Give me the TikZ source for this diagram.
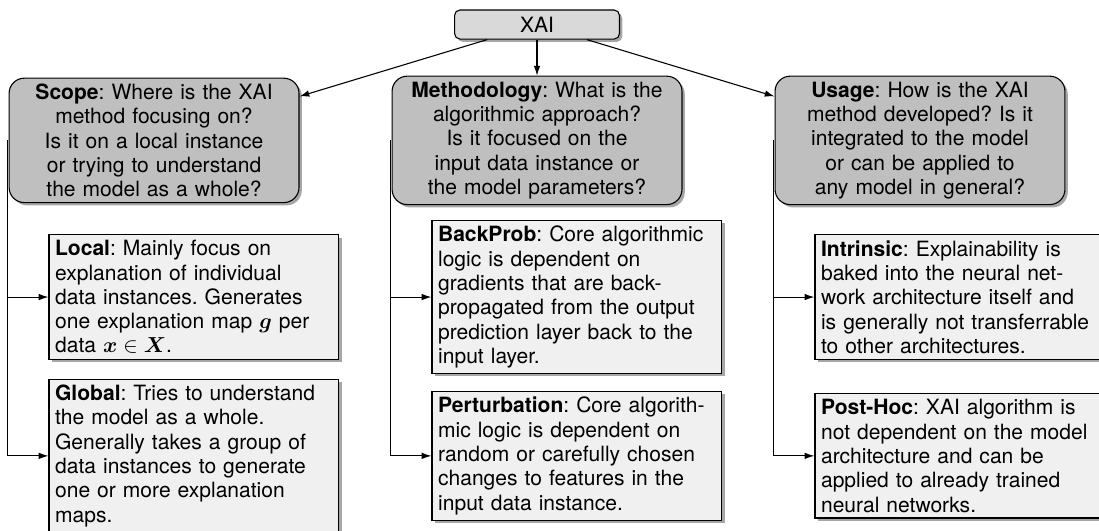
\documentclass[tikz,border=0pt]{standalone}
\usepackage{amsmath, amssymb}
\usepackage{fontspec}
\setmainfont{TeX Gyre Heros}
\usepackage{tikz}
\usetikzlibrary{positioning}
\usetikzlibrary{arrows.meta}
\usetikzlibrary{shadows}
\usetikzlibrary{calc}
\frenchspacing

\begin{document}
\begin{tikzpicture}[ font = \fontsize{9.7pt}{11.2pt}\selectfont
                     , >={Latex[width=3pt, length=4.5pt]}
                     , line width = 0.5pt
                     ]

    \tikzset{ box/.style = { rectangle
                           , draw = black
                           , inner xsep = 2.8pt
                           , inner ysep = 2.6pt
                           , drop shadow={shadow xshift=1.3pt, shadow yshift=-1.3pt, fill=black, opacity=0.35} }
            , root/.style = { box, fill = black!15, rounded corners = 2.5pt
                            , minimum width = 76pt
                            , minimum height = 13.4pt, inner ysep = 1pt
                            , align = center }
            , question/.style = {box, fill = black!25, rounded corners = 7pt, text width = 128pt, align = center}
            , leaf/.style = {box, fill = black!6, text width = 128pt, align = left}}

    \useasboundingbox (0,0) rectangle (506.5pt,-244.7pt);
    \coordinate (row1) at (0,-136.9pt);
    \coordinate (row2) at (0,-210.1pt);
    %%
    %% Nodes
    %%
    \node (xai)   [root] at (247.5pt,-11.3pt) {XAI};
    \node (meth)  [question, below = 16.6pt of xai]
      {\textbf{Methodology}: What is the\\ algorithmic approach?\\ Is it focused on the\\
       input data instance or\\ the model parameters?};
    \node (scope) [question, left = 42.4pt of meth]
      {\textbf{Scope}: Where is the XAI\\ method focusing on?\\ Is it on a local instance\\
       or trying to understand\\ the model as a whole?};
    \node (usage) [question, right = 42.4pt of meth]
      {\textbf{Usage}: How is the XAI\\ method developed? Is it\\ integrated to the model\\
       or can be applied to\\ any model in general?};

    \node (local)     [leaf, anchor = west] at ([xshift=18.4pt]scope.west |- row1)
      {\textbf{Local}: Mainly focus on\\ explanation of individual\\ data instances. Generates\\
       one explanation map $\boldsymbol{g}$ per\\ data $\boldsymbol{x} \in \boldsymbol{X}$.};
    \node (global)    [leaf, anchor = west] at ([xshift=18.4pt]scope.west |- row2)
      {\textbf{Global}: Tries to understand\\ the model as a whole.\\ Generally takes a group of\\
       data instances to generate\\ one or more explanation\\ maps.};
    \node (backprob)  [leaf, anchor = west] at ([xshift=18.4pt]meth.west |- row1)
      {\textbf{BackProb}: Core algorithmic\\ logic is dependent on\\ gradients that are back-\\
       propagated from the output\\ prediction layer back to the\\ input layer.};
    \node (perturb)   [leaf, anchor = west] at ([xshift=18.4pt]meth.west |- row2)
      {\textbf{Perturbation}: Core algorith-\\ mic logic is dependent on\\ random or carefully chosen\\
       changes to features in the\\ input data instance.};
    \node (intrinsic) [leaf, anchor = west] at ([xshift=18.4pt]usage.west |- row1)
      {\textbf{Intrinsic}: Explainability is\\ baked into the neural net-\\ work architecture itself and\\
       is generally not transferrable\\ to other architectures.};
    \node (posthoc)   [leaf, anchor = west] at ([xshift=18.4pt]usage.west |- row2)
      {\textbf{Post-Hoc}: XAI algorithm is\\ not dependent on the model\\ architecture and can be\\
       applied to already trained\\ neural networks.};

    %%
    %% Arrows
    %%
    \draw[->] (xai) -- (scope);
    \draw[->] (xai) -- (meth);
    \draw[->] (xai) -- (usage);
    \foreach \p/\a/\b in {scope/local/global, meth/backprob/perturb, usage/intrinsic/posthoc}
    {
      \draw[->] ([xshift=-0.5pt]\p.west) |- (\a.west);
      \draw[->] ([xshift=-0.5pt]\p.west) |- (\b.west);
    }
  \end{tikzpicture}
\end{document}
